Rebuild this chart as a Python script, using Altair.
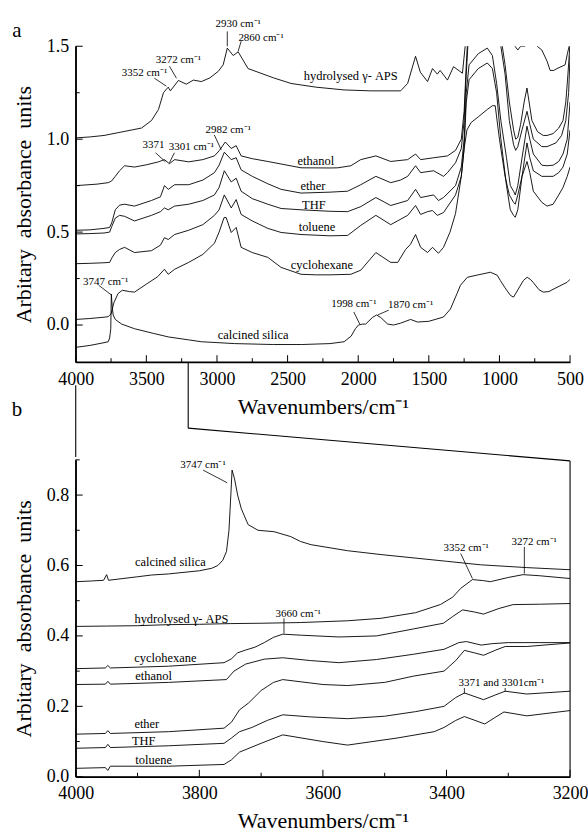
import altair as alt
import pandas as pd

FONT = "Liberation Serif"

# ---------------- panel a : spectra (wavenumber, absorbance) ----------------
a_aps = [(4000,1.007),(3900,1.012),(3800,1.02),(3700,1.035),(3600,1.05),(3534,1.06),(3464,1.10),(3414,1.16),(3379,1.25),
         (3345,1.28),(3330,1.26),(3273,1.316),(3217,1.296),(3167,1.318),(3110,1.31),(3050,1.33),(2991,1.365),(2956,1.40),
         (2927,1.49),(2885,1.45),(2850,1.47),(2780,1.38),(2600,1.33),(2476,1.30),(2300,1.28),(2100,1.265),(1911,1.26),
         (1700,1.26),(1650,1.30),(1594,1.446),(1560,1.36),(1509,1.31),(1474,1.38),(1440,1.35),(1420,1.37),(1368,1.318),
         (1325,1.39),(1262,1.355),(1240,1.52),(1200,1.7),(1100,1.8),(950,1.6),(900,1.55),(890,1.50),(870,1.48),(850,1.50),
         (820,1.50),(800,1.56),(760,1.55),(733,1.50),(700,1.48),(663,1.42),(641,1.37),(615,1.37),(592,1.38),(535,1.40),
         (519,1.46),(500,1.52)]
a_ethanol = [(4000,0.75),(3850,0.758),(3770,0.766),(3746,0.775),(3720,0.80),(3690,0.83),(3654,0.857),(3584,0.85),(3500,0.862),
             (3414,0.878),(3372,0.89),(3337,0.868),(3300,0.89),(3200,0.878),(3100,0.89),(3018,0.91),(2982,0.94),(2941,0.985),
             (2899,0.95),(2864,0.965),(2829,0.91),(2750,0.895),(2640,0.88),(2405,0.846),(2200,0.845),(2144,0.846),(2052,0.857),
             (1982,0.89),(1875,0.91),(1770,0.88),(1650,0.89),(1594,0.92),(1558,0.89),(1466,0.90),(1368,0.91),(1311,0.94),
             (1270,1.0),(1250,1.15),(1235,1.4),(1220,1.6),(1150,1.75),(1100,1.8),(1050,1.75),(1000,1.6),(960,1.40),(930,1.2),
             (900,1.05),(885,1.0),(870,1.01),(850,1.08),(825,1.2),(805,1.275),(790,1.2),(770,1.1),(730,1.04),(690,1.02),
             (663,1.02),(620,1.03),(580,1.06),(550,1.1),(530,1.2),(515,1.35),(500,1.52)]
a_ether = [(4000,0.51),(3900,0.512),(3800,0.52),(3760,0.525),(3745,0.55),(3720,0.62),(3690,0.645),(3654,0.65),(3584,0.64),
           (3464,0.67),(3400,0.69),(3372,0.75),(3345,0.73),(3300,0.755),(3200,0.755),(3100,0.78),(3018,0.82),(2985,0.86),
           (2948,0.93),(2899,0.89),(2864,0.90),(2829,0.835),(2750,0.80),(2640,0.76),(2546,0.73),(2405,0.71),(2200,0.715),
           (2075,0.72),(1982,0.755),(1875,0.80),(1770,0.766),(1700,0.78),(1650,0.80),(1594,0.857),(1558,0.82),(1466,0.83),
           (1396,0.80),(1368,0.82),(1311,0.873),(1270,0.95),(1250,1.1),(1235,1.35),(1220,1.55),(1100,1.75),(1050,1.7),
           (1000,1.55),(960,1.35),(930,1.1),(900,0.97),(885,0.94),(870,0.96),(840,1.05),(805,1.15),(785,1.08),(760,1.0),
           (700,0.96),(663,0.96),(600,0.98),(560,1.02),(530,1.1),(510,1.25),(500,1.45)]
a_thf = [(4000,0.49),(3900,0.492),(3800,0.495),(3760,0.50),(3745,0.53),(3720,0.575),(3690,0.59),(3654,0.585),(3584,0.56),
         (3464,0.59),(3400,0.61),(3372,0.63),(3345,0.62),(3300,0.64),(3200,0.65),(3100,0.67),(3018,0.70),(2985,0.74),
         (2948,0.83),(2899,0.77),(2864,0.79),(2829,0.72),(2750,0.68),(2640,0.65),(2546,0.627),(2405,0.62),(2200,0.612),
         (2075,0.61),(1982,0.637),(1875,0.686),(1770,0.643),(1650,0.67),(1594,0.73),(1558,0.686),(1466,0.70),(1432,0.67),
         (1396,0.686),(1311,0.75),(1270,0.85),(1250,1.0),(1235,1.25),(1215,1.4),(1150,1.46),(1086,1.49),(1050,1.45),
         (1020,1.3),(990,1.1),(950,0.9),(923,0.75),(900,0.72),(888,0.70),(870,0.75),(840,0.9),(805,1.07),(785,1.0),
         (760,0.92),(700,0.86),(663,0.857),(620,0.86),(580,0.88),(550,0.92),(520,1.0),(500,1.2)]
a_toluene = [(4000,0.33),(3900,0.332),(3800,0.335),(3760,0.337),(3745,0.36),(3720,0.39),(3689,0.407),(3654,0.418),(3584,0.39),
             (3464,0.40),(3400,0.43),(3372,0.47),(3345,0.46),(3300,0.487),(3200,0.51),(3100,0.54),(3018,0.59),(2985,0.62),
             (2948,0.70),(2899,0.63),(2864,0.675),(2829,0.595),(2750,0.56),(2640,0.52),(2546,0.498),(2405,0.487),(2200,0.48),
             (2075,0.482),(1982,0.536),(1875,0.59),(1770,0.54),(1650,0.59),(1594,0.643),(1558,0.595),(1509,0.61),(1474,0.616),
             (1440,0.59),(1396,0.605),(1311,0.70),(1270,0.8),(1250,0.95),(1235,1.2),(1215,1.32),(1150,1.38),(1086,1.41),
             (1050,1.38),(1020,1.25),(990,1.0),(950,0.75),(923,0.62),(900,0.59),(888,0.58),(870,0.62),(840,0.8),(805,0.98),
             (785,0.9),(760,0.83),(700,0.80),(663,0.80),(620,0.80),(580,0.82),(550,0.85),(520,0.92),(500,1.05)]
a_cyclo = [(4000,0.03),(3900,0.035),(3800,0.042),(3770,0.045),(3750,0.06),(3730,0.12),(3700,0.17),(3670,0.187),(3620,0.18),
           (3584,0.177),(3500,0.22),(3420,0.26),(3372,0.30),(3345,0.273),(3300,0.30),(3200,0.337),(3100,0.38),(3018,0.44),
           (2985,0.50),(2950,0.578),(2935,0.578),(2899,0.498),(2864,0.525),(2829,0.418),(2750,0.39),(2640,0.364),(2546,0.31),
           (2405,0.273),(2300,0.27),(2200,0.27),(2052,0.273),(1982,0.295),(1875,0.39),(1770,0.337),(1720,0.337),(1664,0.407),
           (1630,0.434),(1594,0.487),(1558,0.418),(1509,0.39),(1474,0.418),(1432,0.386),(1396,0.418),(1350,0.5),(1311,0.6),
           (1270,0.8),(1250,0.95),(1230,1.05),(1200,1.09),(1150,1.12),(1086,1.16),(1050,1.18),(1030,1.18),(1000,1.0),
           (960,0.8),(930,0.7),(900,0.66),(888,0.65),(870,0.7),(840,0.8),(805,0.88),(785,0.82),(760,0.72),(700,0.66),
           (663,0.64),(620,0.65),(580,0.7),(550,0.74),(520,0.80),(500,0.85)]
a_silica = [(4000,-0.12),(3900,-0.11),(3800,-0.095),(3770,-0.09),(3760,-0.07),(3752,-0.02),(3748,0.166),(3742,0.10),
            (3735,0.054),(3720,0.03),(3675,0.005),(3584,-0.02),(3450,-0.045),(3345,-0.064),(3200,-0.08),(3110,-0.09),
            (2875,-0.10),(2600,-0.105),(2400,-0.105),(2200,-0.10),(2100,-0.09),(2050,-0.06),(2020,-0.02),(1998,0.0),
            (1970,0.005),(1947,0.005),(1900,0.04),(1870,0.054),(1840,0.04),(1791,0.005),(1749,0.0),(1700,0.01),(1629,0.03),
            (1580,0.016),(1500,0.02),(1396,0.043),(1347,0.086),(1300,0.17),(1276,0.214),(1227,0.257),(1150,0.27),(1064,0.284),
            (1016,0.268),(994,0.24),(960,0.2),(923,0.16),(900,0.15),(867,0.193),(830,0.24),(804,0.257),(780,0.245),(762,0.23),
            (720,0.19),(690,0.177),(650,0.18),(600,0.2),(521,0.23),(500,0.246)]

# ---------------- panel b : spectra ----------------
b_silica = [(4000,0.554),(3975,0.556),(3955,0.558),(3950,0.574),(3947,0.558),(3900,0.568),(3877,0.573),(3850,0.576),
            (3800,0.585),(3780,0.592),(3770,0.600),(3762,0.615),(3756,0.640),(3752,0.700),(3749,0.800),(3747,0.871),
            (3743,0.846),(3738,0.800),(3732,0.761),(3721,0.716),(3705,0.700),(3679,0.696),(3652,0.682),(3636,0.668),
            (3619,0.659),(3560,0.642),(3506,0.631),(3400,0.612),(3345,0.602),(3270,0.594),(3200,0.588)]
b_aps = [(4000,0.427),(3950,0.428),(3900,0.429),(3850,0.432),(3800,0.433),(3750,0.435),(3700,0.436),(3636,0.438),
         (3560,0.443),(3506,0.450),(3450,0.466),(3410,0.489),(3390,0.510),(3377,0.535),(3358,0.560),(3340,0.557),
         (3329,0.554),(3300,0.566),(3276,0.574),(3250,0.571),(3200,0.563)]
b_cyclo = [(4000,0.307),(3952,0.309),(3948,0.316),(3944,0.309),(3850,0.314),(3760,0.324),(3748,0.335),(3738,0.352),
           (3725,0.360),(3710,0.368),(3695,0.381),(3680,0.396),(3665,0.405),(3635,0.402),(3574,0.397),(3513,0.400),
           (3453,0.420),(3405,0.436),(3390,0.455),(3374,0.474),(3355,0.468),(3340,0.462),(3315,0.478),(3292,0.489),
           (3250,0.490),(3200,0.492)]
b_ethanol = [(4000,0.262),(3952,0.263),(3948,0.271),(3944,0.263),(3850,0.268),(3756,0.276),(3744,0.300),(3725,0.320),
             (3695,0.334),(3665,0.338),(3620,0.330),(3574,0.324),(3513,0.333),(3453,0.348),(3404,0.362),(3380,0.381),
             (3368,0.384),(3344,0.374),(3326,0.378),(3300,0.381),(3250,0.381),(3200,0.381)]
b_ether = [(4000,0.121),(3952,0.123),(3948,0.131),(3944,0.123),(3850,0.128),(3760,0.138),(3748,0.155),(3735,0.190),
           (3720,0.210),(3700,0.245),(3680,0.268),(3665,0.276),(3600,0.262),(3560,0.259),(3500,0.268),(3453,0.286),
           (3404,0.300),(3385,0.330),(3371,0.359),(3355,0.352),(3340,0.345),(3320,0.360),(3305,0.370),(3270,0.370),
           (3200,0.380)]
b_thf = [(4000,0.081),(3952,0.083),(3948,0.092),(3944,0.083),(3850,0.088),(3760,0.095),(3748,0.110),(3735,0.128),
         (3715,0.140),(3690,0.160),(3665,0.176),(3620,0.170),(3560,0.165),(3500,0.172),(3450,0.185),(3404,0.200),
         (3385,0.225),(3371,0.238),(3340,0.219),(3320,0.233),(3305,0.243),(3270,0.235),(3200,0.243)]
b_toluene = [(4000,0.024),(3952,0.026),(3948,0.018),(3944,0.030),(3850,0.030),(3760,0.035),(3748,0.048),(3735,0.070),
             (3700,0.095),(3665,0.119),(3600,0.100),(3560,0.090),(3480,0.110),(3420,0.128),(3404,0.140),(3385,0.160),
             (3371,0.171),(3338,0.150),(3320,0.170),(3307,0.184),(3270,0.173),(3200,0.188)]

# ---------------- labels & annotations: (wavenumber, absorbance, text, font size) ----------------
SUP = "cm\u207b\u00b9"
a_labels = [(2053,1.339,"hydrolysed \u03b3- APS",12.5),(2300,0.884,"ethanol",12.5),(2321,0.75,"ether",12.5),
            (2314,0.648,"THF",12.5),(2292,0.525,"toluene",12.5),(2257,0.321,"cyclohexane",12.5),
            (2744,-0.054,"calcined silica",12.5),
            (3788,0.23,"3747 "+SUP,11),(3513,1.355,"3352 "+SUP,11),(3273,1.425,"3272 "+SUP,11),
            (2850,1.618,"2930 "+SUP,11),(2688,1.543,"2860 "+SUP,11),(2920,1.05,"2982 "+SUP,11),
            (3450,0.969,"3371",11),(3181,0.959,"3301 "+SUP,11),(2031,0.112,"1998 "+SUP,11),(1629,0.107,"1870 "+SUP,11)]
a_leaders = [(2927,1.58,2927,1.50),(2829,1.527,2850,1.473),(3337,1.393,3287,1.328),(3443,1.328,3358,1.285),
             (3019,1.023,2970,0.943),(3435,0.927,3365,0.878),(3301,0.927,3337,0.873),(3838,0.214,3746,0.161),
             (2031,0.07,1989,0.005),(1784,0.08,1862,0.054)]
b_labels = [(3794,0.885,"3747 "+SUP,11),(3847,0.611,"calcined silica",12.5),(3829,0.447,"hydrolysed \u03b3- APS",12.5),
            (3640,0.461,"3660 "+SUP,11),(3368,0.651,"3352 "+SUP,11),(3258,0.668,"3272 "+SUP,11),
            (3855,0.337,"cyclohexane",12.5),(3874,0.286,"ethanol",12.5),(3885,0.15,"ether",12.5),
            (3890,0.102,"THF",12.5),(3874,0.048,"toluene",12.5),(3311,0.266,"3371 and 3301"+SUP,11)]
b_leaders = [(3794,0.871,3755,0.835),(3663,0.45,3663,0.407),(3377,0.634,3358,0.563),(3274,0.653,3274,0.577),
             (3371,0.252,3371,0.236),(3305,0.252,3305,0.242)]
# zoom connector from panel a (4000-3200 cm-1) to panel b, in panel b coordinates
b_connectors = [(4000,1.112,4000,0.908),(3818,1.177,3818,0.990),(3818,0.990,3200,0.897),(3200,0.897,3200,0.0)]

# ticks
a_xmajor = [4000,3500,3000,2500,2000,1500,1000,500]
a_xminor = [3750,3250,2750,2250,1750,1250,750]
a_ymajor = [0.0,0.5,1.0,1.5]
a_yminor = [0.25,0.75,1.25]
b_xmajor = [4000,3800,3600,3400,3200]
b_xminor = [3900,3700,3500,3300]
b_ymajor = [0.0,0.2,0.4,0.6,0.8]
b_yminor = [0.1,0.3,0.5,0.7,0.9]


def spectra(d):
    rows = []
    for name, pts in d.items():
        for wn, v in pts:
            rows.append({"series": name, "wn": wn, "val": v})
    return pd.DataFrame(rows)


def seg(lst):
    return pd.DataFrame([{"wn": a, "val": b, "wn2": c, "val2": d} for a, b, c, d in lst])


def txt(lst):
    return pd.DataFrame([{"wn": a, "val": b, "text": t, "fs": s} for a, b, t, s in lst])


def axis(values, fmt, title, lp, tp):
    return alt.Axis(values=values, format=fmt, title=title, ticks=False, grid=False, labelPadding=lp,
                    titlePadding=tp, labelFont=FONT, labelFontSize=18, labelColor="black", labelFlush=False,
                    labelOverlap=False, titleFont=FONT, titleFontSize=22, titleFontWeight="normal",
                    titleColor="black", domainColor="black", domainWidth=1.3)


def panel(df, xdom, ydom, xmaj, xmin_, ymaj, ymin_, labels, leaders, letter, letter_y, clip, extra=None):
    xs = alt.Scale(domain=xdom, reverse=True, nice=False, zero=False)
    ys = alt.Scale(domain=ydom, nice=False, zero=False)
    x_ax = axis(xmaj, "d", "Wavenumbers/cm\u207b\u00b9", 8, 8)
    y_ax = axis(ymaj, ".1f", "Arbitary\u00a0\u00a0absorbance\u00a0\u00a0units", 7, 11)
    X = lambda f="wn": alt.X(f + ":Q", scale=xs, axis=x_ax)
    Y = lambda f="val": alt.Y(f + ":Q", scale=ys, axis=y_ax)
    layers = [alt.Chart(df).mark_line(color="black", strokeWidth=0.9, clip=clip).encode(
        x=X(), y=Y(), detail="series:N")]
    lo, hi = ydom
    right_x, left_x = xdom
    # axis lines drawn again as rules so they are always visible
    frame = [(left_x, lo, right_x, lo), (left_x, lo, left_x, hi)]
    layers.append(alt.Chart(seg(frame)).mark_rule(color="black", strokeWidth=1.3).encode(
        x=X(), x2="wn2:Q", y=Y(), y2="val2:Q"))
    for vals, ln in ((xmaj, 7), (xmin_, 4)):
        layers.append(alt.Chart(pd.DataFrame({"wn": vals, "val": [lo] * len(vals)}))
                      .mark_rule(color="black", strokeWidth=1, y2Offset=-ln)
                      .encode(x=X(), y=Y(), y2="val:Q"))
    for vals, ln in ((ymaj, 7), (ymin_, 4)):
        layers.append(alt.Chart(pd.DataFrame({"val": vals, "wn": [left_x] * len(vals)}))
                      .mark_rule(color="black", strokeWidth=1, x2Offset=ln)
                      .encode(y=Y(), x=X(), x2="wn:Q"))
    segs = [(leaders, 0.8)] + ([(extra, 1.1)] if extra else [])
    for lst, w in segs:
        layers.append(alt.Chart(seg(lst)).mark_rule(color="black", strokeWidth=w).encode(
            x=X(), x2="wn2:Q", y=Y(), y2="val2:Q"))
    layers.append(alt.Chart(txt(labels)).mark_text(font=FONT, color="black", align="center", baseline="middle").encode(
        x=X(), y=Y(), text="text:N", size=alt.Size("fs:Q", scale=None, legend=None)))
    layers.append(alt.Chart(pd.DataFrame({"t": [letter]})).mark_text(font=FONT, fontSize=21, color="black",
                                                                       align="center", baseline="middle").encode(
        x=alt.value(-59), y=alt.value(letter_y), text="t:N"))
    return layers


dfa = spectra({"aps": a_aps, "ethanol": a_ethanol, "ether": a_ether, "thf": a_thf, "toluene": a_toluene,
               "cyclo": a_cyclo, "silica": a_silica})
dfb = spectra({"silica": b_silica, "aps": b_aps, "cyclo": b_cyclo, "ethanol": b_ethanol, "ether": b_ether,
               "thf": b_thf, "toluene": b_toluene})

la = panel(dfa, [500, 4000], [-0.2, 1.5], a_xmajor, a_xminor, a_ymajor, a_yminor, a_labels, a_leaders, "a", -15, True)
lb = panel(dfb, [3200, 4000], [0.0, 0.9], b_xmajor, b_xminor, b_ymajor, b_yminor, b_labels, b_leaders, "b", -50, False,
           extra=b_connectors)

pa = alt.layer(*la).properties(width=496, height=317)
pb = alt.layer(*lb).properties(width=496, height=318)

chart = alt.vconcat(pa, pb, spacing=98, bounds="flush").properties(
    padding={"left": 11, "top": 16, "right": 0, "bottom": 0}, background="white"
).configure_view(strokeWidth=0, stroke="transparent")

chart.save("out.html", embed_options={"renderer": "svg", "actions": False})
